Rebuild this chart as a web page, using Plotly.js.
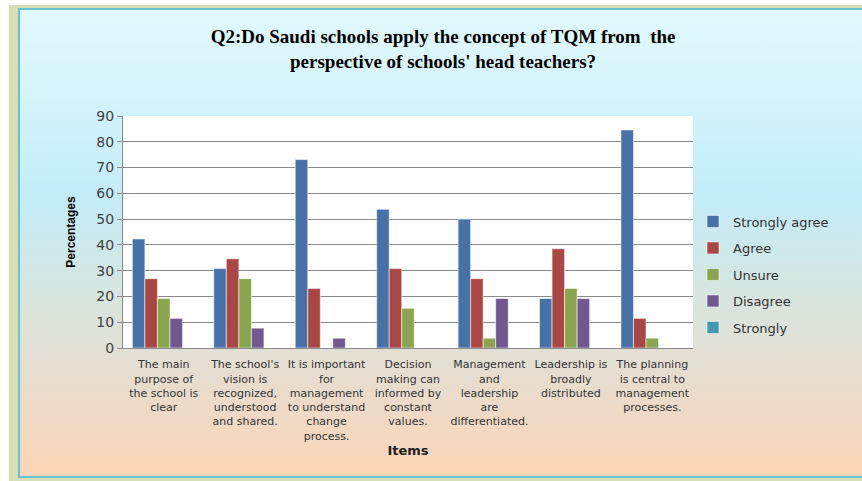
<!DOCTYPE html>
<html>
<head>
<meta charset="utf-8">
<script src="https://cdn.plot.ly/plotly-3.0.1.min.js"></script>
<style>
  html, body { margin:0; padding:0; background:#ffffff; width:862px; height:481px; overflow:hidden; }
  #frame { position:absolute; left:9px; top:5px; width:853px; height:476px; background:#d7dfb6; }
  #panel { position:absolute; left:18px; top:8px; width:850px; height:466px;
           border-left:2px solid #6cbfcf; border-top:2px solid #6cbfcf; border-bottom:2px solid #6cbfcf;
           background:linear-gradient(to bottom, #e2f9fd 0%, #d3f3fb 20%, #c3ecf8 40%, #d6e6e0 60%, #e6ddd0 78%, #fbd5b6 100%); }
  #chart { position:absolute; left:0; top:0; width:862px; height:481px; }
</style>
</head>
<body>
<div id="frame"></div>
<div id="panel"></div>
<div id="chart"></div>
<script>
var categories = [
  "The main<br>purpose of<br>the school is<br>clear",
  "The school's<br>vision is<br>recognized,<br>understood<br>and shared.",
  "It is important<br>for<br>management<br>to understand<br>change<br>process.",
  "Decision<br>making can<br>informed by<br>constant<br>values.",
  "Management<br>and<br>leadership<br>are<br>differentiated.",
  "Leadership is<br>broadly<br>distributed",
  "The planning<br>is central to<br>management<br>processes."
];
var stronglyAgree = [42.3, 30.8, 73.1, 53.8, 50.0, 19.2, 84.6];
var agree         = [26.9, 34.6, 23.1, 30.8, 26.9, 38.5, 11.5];
var unsure        = [19.2, 26.9, 0,    15.4, 3.8,  23.1, 3.8];
var disagree      = [11.5, 7.7,  3.8,  0,    19.2, 19.2, 0];
var strongly      = [0, 0, 0, 0, 0, 0, 0];
var seriesNames = ["Strongly agree", "Agree", "Unsure", "Disagree", "Strongly"];
var seriesColors = ["#4672a8", "#aa4643", "#89a54e", "#71588f", "#4198af"];
var yTicks = [0, 10, 20, 30, 40, 50, 60, 70, 80, 90];

var seriesValues = [stronglyAgree, agree, unsure, disagree, strongly];
var traces = seriesValues.map(function(vals, i) {
  return {
    type: 'bar',
    name: seriesNames[i],
    x: categories,
    y: vals,
    legendgroup: 'g' + i,
    marker: { color: seriesColors[i], line: { color: 'rgba(255,255,255,0.55)', width: 1 } },
    hoverinfo: 'skip'
  };
});

var layout = {
  width: 862, height: 481,
  paper_bgcolor: 'rgba(0,0,0,0)',
  plot_bgcolor: '#ffffff',
  margin: { l: 123, r: 169, t: 116, b: 133, autoexpand: false },
  barmode: 'group',
  bargap: 0.23,
  bargroupgap: 0,
  showlegend: true,
  title: {
    text: "<b>Q2:Do Saudi schools apply the concept of TQM from  the<br>perspective of schools' head teachers?</b>",
    font: { family: 'Liberation Serif', size: 19, color: '#000000' },
    x: 0.514, xanchor: 'center', xref: 'container',
    y: 0.91, yanchor: 'middle', yref: 'container'
  },
  legend: {
    x: 1.0, xanchor: 'left',
    y: 0.61, yanchor: 'top',
    font: { family: 'DejaVu Sans', size: 13, color: '#333333' },
    bgcolor: 'rgba(0,0,0,0)',
    traceorder: 'grouped',
    tracegroupgap: 6.6,
    itemwidth: 30
  },
  xaxis: {
    type: 'category',
    showline: true, linecolor: '#8a8a8a', linewidth: 1,
    showgrid: false,
    ticks: '',
    tickangle: 0,
    ticklabelstandoff: 6,
    tickfont: { family: 'DejaVu Sans', size: 11, color: '#333333' },
    title: { text: '<b>Items</b>', font: { family: 'DejaVu Sans', size: 13, color: '#222222' }, standoff: 4 },
    fixedrange: true
  },
  yaxis: {
    range: [0, 90],
    tickvals: yTicks,
    showline: true, linecolor: '#8a8a8a', linewidth: 1,
    showgrid: true, gridcolor: '#8a8a8a', gridwidth: 1,
    zeroline: false,
    ticks: 'outside', ticklen: 5, tickcolor: '#8a8a8a',
    tickfont: { family: 'DejaVu Sans', size: 14, color: '#404040' },
    title: { text: '<b>Percentages</b>', font: { family: 'Liberation Sans', size: 12, color: '#000000' }, standoff: 18 },
    fixedrange: true
  }
};

Plotly.newPlot('chart', traces, layout, { displayModeBar: false, staticPlot: true });
</script>
</body>
</html>
